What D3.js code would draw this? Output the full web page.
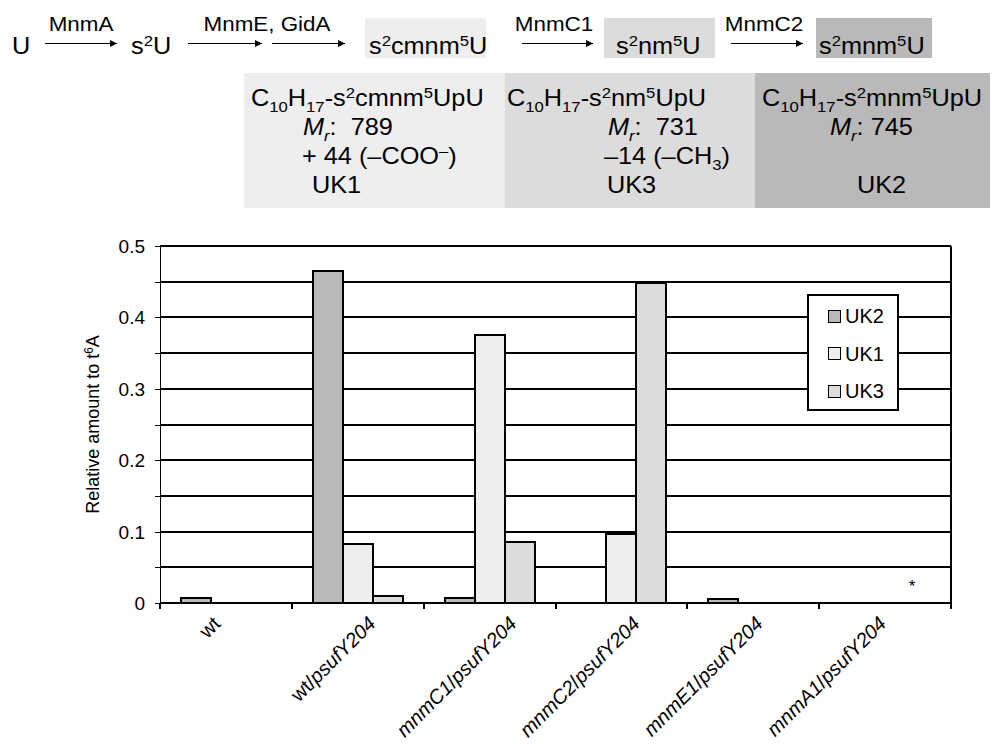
<!DOCTYPE html>
<html>
<head>
<meta charset="utf-8">
<script src="https://cdn.jsdelivr.net/npm/d3@7"></script>
<style>
  body { margin: 0; background: #fff; }
  svg { font-family: "Liberation Sans", Arial, Helvetica, sans-serif; }
  text { white-space: pre; }
  .crisp line, .crisp rect, .crisp path { shape-rendering: crispEdges; }
</style>
</head>
<body>
<svg id="chart" width="997" height="744"></svg>
<script>
// values (relative amount to t6A)
var categories = ["wt", "wt/psufY204", "mnmC1/psufY204", "mnmC2/psufY204", "mnmE1/psufY204", "mnmA1/psufY204"];
var seriesNames = ["UK2", "UK1", "UK3"];
var uk2 = [0.007, 0.465, 0.0075, 0, 0.0056, 0];
var uk1 = [0, 0.082, 0.375, 0.097, 0, 0];
var uk3 = [0, 0.010, 0.086, 0.448, 0, 0];
var yTickValues = [0, 0.1, 0.2, 0.3, 0.4, 0.5];
var yTickLabels = ["0", "0.1", "0.2", "0.3", "0.4", "0.5"];
var gridValues = [0.05, 0.1, 0.15, 0.2, 0.25, 0.3, 0.35, 0.4, 0.45, 0.5];

var colors = { UK2: "#b9b9b9", UK1: "#eeeeee", UK3: "#dcdcdc" };
var values = { UK2: uk2, UK1: uk1, UK3: uk3 };

var svg = d3.select("#chart");

// rich text helper: parts with sup / sub / italic
function rich(sel, parts, size) {
  var shift = 0;
  parts.forEach(function(p) {
    var target = p.sup ? -0.36 * size : (p.sub ? 0.24 * size : 0);
    sel.append("tspan")
      .attr("dy", target - shift)
      .attr("font-size", (p.sup || p.sub) ? size * 0.66 : size)
      .attr("font-style", p.it ? "italic" : null)
      .text(p.t);
    shift = target;
  });
  return sel;
}

// text placed at x,y and stretched a bit horizontally (the figure's font runs wide)
function wide(x, y, sx) {
  return svg.append("text").attr("transform", "translate(" + x + "," + y + ") scale(" + sx + ",1)");
}

// ---------- pathway scheme on top ----------
svg.append("defs").append("marker")
    .attr("id", "head")
    .attr("viewBox", "0 0 10 10")
    .attr("refX", 10).attr("refY", 5)
    .attr("markerWidth", 9).attr("markerHeight", 7)
    .attr("markerUnits", "userSpaceOnUse")
    .attr("orient", "auto")
  .append("path").attr("d", "M0,0L10,5L0,10z").attr("fill", "#000");

var boxes = [
  { x: 365, w: 121, fill: colors.UK1 },
  { x: 604, w: 111, fill: colors.UK3 },
  { x: 816, w: 116, fill: colors.UK2 }
];
svg.selectAll("rect.topbox").data(boxes).enter().append("rect")
    .attr("class", "topbox")
    .attr("x", function(d) { return d.x; }).attr("y", 18)
    .attr("width", function(d) { return d.w; }).attr("height", 40)
    .attr("fill", function(d) { return d.fill; });

var arrows = [
  { x1: 45, x2: 117 }, { x1: 188, x2: 262 }, { x1: 272, x2: 345 },
  { x1: 522, x2: 593 }, { x1: 731, x2: 803 }
];
svg.selectAll("line.arrow").data(arrows).enter().append("line")
    .attr("class", "arrow")
    .attr("x1", function(d) { return d.x1; }).attr("x2", function(d) { return d.x2; })
    .attr("y1", 43.5).attr("y2", 43.5)
    .attr("stroke", "#000").attr("stroke-width", 1.2)
    .attr("marker-end", "url(#head)");

var arrowLabels = [
  { x: 81, t: "MnmA" }, { x: 267, t: "MnmE, GidA" },
  { x: 554, t: "MnmC1" }, { x: 764, t: "MnmC2" }
];
arrowLabels.forEach(function(d) {
  wide(d.x, 31, 1.12).attr("text-anchor", "middle").attr("font-size", 20).text(d.t);
});

var topSize = 23, topSx = 1.1;
rich(wide(12, 54, topSx), [{ t: "U" }], topSize);
rich(wide(131, 54, topSx), [{ t: "s" }, { t: "2", sup: true }, { t: "U" }], topSize);
rich(wide(369, 54, topSx),
  [{ t: "s" }, { t: "2", sup: true }, { t: "cmnm" }, { t: "5", sup: true }, { t: "U" }], topSize);
rich(wide(616, 54, topSx),
  [{ t: "s" }, { t: "2", sup: true }, { t: "nm" }, { t: "5", sup: true }, { t: "U" }], topSize);
rich(wide(819, 54, topSx),
  [{ t: "s" }, { t: "2", sup: true }, { t: "mnm" }, { t: "5", sup: true }, { t: "U" }], topSize);

// ---------- product boxes ----------
var panels = [
  { x: 244, w: 261, fill: colors.UK1 },
  { x: 505, w: 250, fill: colors.UK3 },
  { x: 755, w: 235, fill: colors.UK2 }
];
svg.selectAll("rect.panel").data(panels).enter().append("rect")
    .attr("class", "panel")
    .attr("x", function(d) { return d.x; }).attr("y", 73)
    .attr("width", function(d) { return d.w; }).attr("height", 135)
    .attr("fill", function(d) { return d.fill; });

var bs = 23, bsx = 1.1;
function boxLine(x, y, parts) { rich(wide(x, y, bsx), parts, bs); }
var formula = [{ t: "C" }, { t: "10", sub: true }, { t: "H" }, { t: "17", sub: true }, { t: "-s" }, { t: "2", sup: true }];
var mr = [{ t: "M", it: true }, { t: "r", sub: true, it: true }, { t: ":" }];

boxLine(251, 106, formula.concat([{ t: "cmnm" }, { t: "5", sup: true }, { t: "UpU" }]));
boxLine(303, 135, mr.concat([{ t: "  789" }]));
boxLine(302, 164, [{ t: "+ 44 (\u2013COO" }, { t: "\u2013", sup: true }, { t: ")" }]);
boxLine(312, 193, [{ t: "UK1" }]);

boxLine(507, 106, formula.concat([{ t: "nm" }, { t: "5", sup: true }, { t: "UpU" }]));
boxLine(608, 135, mr.concat([{ t: "  731" }]));
boxLine(604, 164, [{ t: "\u201314 (\u2013CH" }, { t: "3", sub: true }, { t: ")" }]);
boxLine(607, 193, [{ t: "UK3" }]);

boxLine(762, 106, formula.concat([{ t: "mnm" }, { t: "5", sup: true }, { t: "UpU" }]));
boxLine(830, 135, mr.concat([{ t: " 745" }]));
boxLine(857, 193, [{ t: "UK2" }]);

// ---------- bar chart ----------
var plotLeft = 160, plotRight = 951, plotTop = 246, plotBottom = 603;

var x = d3.scaleBand().domain(categories).range([plotLeft, plotRight]);
var x1 = d3.scaleBand().domain(seriesNames)
    .range([x.bandwidth() * 0.16, x.bandwidth() * 0.84]);
var y = d3.scaleLinear().domain([0, 0.5]).rangeRound([plotBottom, plotTop]);
// the rotated category labels sit on a slightly tighter pitch than the bars
var xLabel = d3.scaleBand().domain(categories).range([148, 888]);

var chart = svg.append("g").attr("class", "crisp");
var lw = 1.5;

// gridlines
chart.append("g").selectAll("line").data(gridValues).enter().append("line")
    .attr("x1", plotLeft).attr("x2", plotRight)
    .attr("y1", function(d) { return y(d); }).attr("y2", function(d) { return y(d); })
    .attr("stroke", "#000").attr("stroke-width", lw);
chart.append("line").attr("x1", plotRight).attr("x2", plotRight).attr("y1", y(0.5)).attr("y2", y(0))
    .attr("stroke", "#000").attr("stroke-width", lw);

// bars
var rows = [];
categories.forEach(function(c, i) {
  seriesNames.forEach(function(s) {
    if (values[s][i] > 0) rows.push({ cat: c, key: s, value: values[s][i] });
  });
});
chart.append("g").selectAll("rect").data(rows).enter().append("rect")
    .attr("x", function(d) { return Math.round(x(d.cat) + x1(d.key)); })
    .attr("y", function(d) { return y(d.value); })
    .attr("width", Math.round(x1.bandwidth()))
    .attr("height", function(d) { return y(0) - y(d.value); })
    .attr("fill", function(d) { return colors[d.key]; })
    .attr("stroke", "#000").attr("stroke-width", lw);

// y axis
var minorAxis = chart.append("g").attr("transform", "translate(" + plotLeft + ",0)")
    .call(d3.axisLeft(y).tickValues(gridValues.concat([0])).tickSize(5).tickFormat(""));
var yAxis = chart.append("g").attr("transform", "translate(" + plotLeft + ",0)")
    .call(d3.axisLeft(y).tickValues(yTickValues).tickSize(5).tickPadding(10)
      .tickFormat(function(d, i) { return yTickLabels[i]; }));
[minorAxis, yAxis].forEach(function(g) {
  g.select(".domain").attr("stroke", "#000").attr("stroke-width", lw);
  g.selectAll(".tick line").attr("stroke", "#000").attr("stroke-width", lw);
});
yAxis.selectAll(".tick text").attr("font-size", 19)
    .attr("font-family", "Liberation Sans, Arial, sans-serif").attr("fill", "#000");

svg.append("text")
    .attr("transform", "translate(99," + ((plotTop + plotBottom) / 2) + ") rotate(-90)")
    .attr("text-anchor", "middle")
    .call(function(t) {
      rich(t, [{ t: "Relative amount to t" }, { t: "6", sup: true }, { t: "A" }], 18);
    });

// x axis
chart.append("line").attr("x1", plotLeft).attr("x2", plotRight).attr("y1", y(0)).attr("y2", y(0))
    .attr("stroke", "#000").attr("stroke-width", lw);
var bounds = categories.map(function(c) { return Math.round(x(c)); }).concat([plotRight]);
chart.append("g").selectAll("line").data(bounds).enter().append("line")
    .attr("x1", function(d) { return d; }).attr("x2", function(d) { return d; })
    .attr("y1", y(0)).attr("y2", y(0) + 6)
    .attr("stroke", "#000").attr("stroke-width", lw);

var labelSize = 20;
svg.append("g").selectAll("text").data(categories).enter().append("text")
    .attr("text-anchor", "end")
    .each(function(d) {
      var parts = d.split("/");
      var t = d3.select(this);
      if (parts.length === 1) {
        rich(t, [{ t: parts[0] }], labelSize);
      } else {
        rich(t, [{ t: parts[0], it: parts[0] !== "wt" }, { t: "/" }, { t: parts[1], it: true }], labelSize);
      }
      // centre the rotated label box on its slot, tops aligned under the axis
      var len = this.getComputedTextLength();
      var endX = xLabel(d) + xLabel.bandwidth() / 2 + (len + 14) * Math.SQRT1_2 / 2;
      t.attr("transform", "translate(" + endX + "," + (y(0) + 22) + ") rotate(-45)");
    });

// asterisk over mnmA1 (not detected)
svg.append("text")
    .attr("x", x("mnmA1/psufY204") + x1("UK3") + x1.bandwidth() / 2 - 3)
    .attr("y", y(0) - 11)
    .attr("text-anchor", "middle").attr("font-size", 17)
    .text("*");

// legend
var lg = chart.append("g").attr("transform", "translate(808,295)");
lg.append("rect").attr("width", 90).attr("height", 115)
    .attr("fill", "#fff").attr("stroke", "#000").attr("stroke-width", lw);
var items = lg.selectAll("g").data(seriesNames).enter().append("g")
    .attr("transform", function(d, i) { return "translate(20," + (21 + i * 37.5) + ")"; });
items.append("rect").attr("x", 0).attr("y", -6).attr("width", 12).attr("height", 12)
    .attr("fill", function(d) { return colors[d]; })
    .attr("stroke", "#000").attr("stroke-width", 1);
items.append("text").attr("x", 17).attr("y", 7).attr("font-size", 20)
    .text(function(d) { return d; });
</script>
</body>
</html>
